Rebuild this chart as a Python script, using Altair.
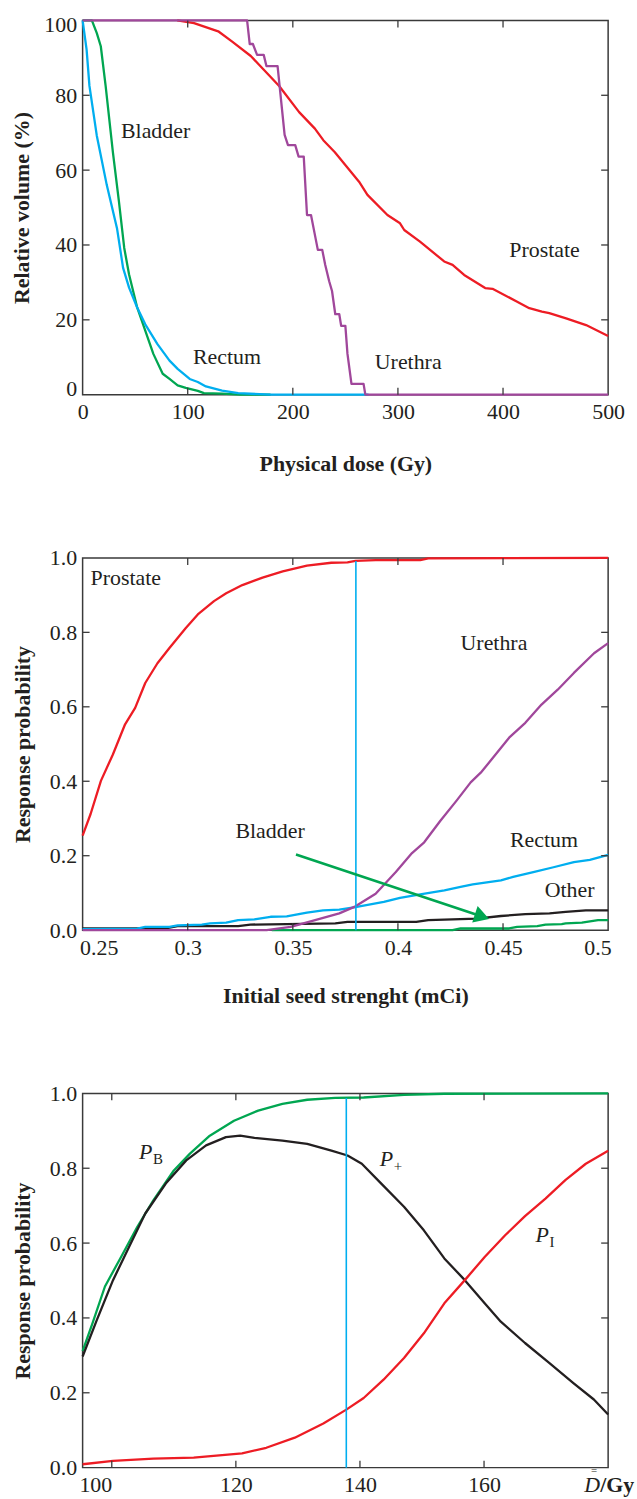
import altair as alt
import pandas as pd

FONT = "Liberation Serif"
INK = "#231F20"
FRAME = "#3a3a3a"
RED = "#ED1C24"
GREEN = "#00A651"
CYAN = "#00AEEF"
PURPLE = "#A0479B"
BLACK = "#231F20"

W = 528
H1, H2, H3 = 376, 374, 376
TICK = 7
FS = 22
LW = 2.3

# ---------------- Panel 1: dose-volume histograms ----------------
prostate_dose = [90, 106, 129, 142, 160, 187, 206, 221, 229, 240, 263, 271, 290, 302, 306, 321,
                 344, 352, 363, 383, 390, 413, 425, 437, 444, 460, 479, 500]
prostate_vol = [100, 99.3, 97.1, 94.4, 90.5, 82.5, 75.5, 71.1, 68, 64.8, 56.9, 53.4, 48, 45.8, 44, 40.9,
                35.6, 34.7, 32, 28.5, 28.3, 24.9, 23.1, 22.2, 21.8, 20.4, 18.6, 15.7]

urethra_dose = [0, 156.5, 159, 162, 166, 172.3, 174.9, 185.5, 192.2, 195.4, 202.3, 205.5, 210.4, 213.5,
                217.3, 221, 223.8, 228, 230.8, 234.6, 237.3, 240.4, 244.2, 246, 250, 252, 255.8,
                267.3, 269, 500]
urethra_vol = [100, 100, 93.7, 93.7, 90.8, 90.8, 87.8, 87.8, 69.4, 66.7, 66.7, 63.6, 63.6, 48,
               48, 42.7, 38.7, 38.7, 34.7, 30.3, 27.7, 21.5, 21.5, 18.4, 18.4, 10.9, 2.9,
               2.9, 0, 0]

rectum_dose = [0, 3.8, 6.5, 13.5, 23, 32.7, 38.5, 44.2, 51.9, 59.6, 71.2, 82.7, 90.4, 101.9, 109.6,
               117.3, 132.7, 148, 178.8, 272]
rectum_vol = [100, 92.2, 82.5, 69.2, 56, 44.5, 33.9, 28.6, 23.3, 18.8, 13.5, 9.1, 6.9, 4.2, 3.4,
              2.2, 1.1, 0.4, 0, 0]

bladder_dose = [0, 8.8, 13.5, 17.3, 21.9, 28.8, 34.6, 39.6, 44.2, 51.9, 59.6, 67.3, 76.2, 82.7, 90.4,
                98.1, 109.6, 115.4, 132.7, 150, 178.8]
bladder_vol = [100, 100, 96.6, 93.1, 82.5, 64.8, 51.5, 39.2, 32.1, 23.3, 17.1, 10.9, 5.6, 4.2, 2.5,
               1.8, 1.0, 0.4, 0.3, 0, 0]

dvh_label_text = ["Bladder", "Rectum", "Urethra", "Prostate"]
dvh_label_dose = [36.5, 105, 278, 406]
dvh_label_vol = [70.4, 10, 8.7, 38.7]

dvh_x_ticks = [0, 100, 200, 300, 400, 500]
dvh_y_ticks = [0, 20, 40, 60, 80, 100]

# ---------------- Panel 2: response vs seed strength ----------------
s_prostate = [0.25, 0.2538, 0.2587, 0.2644, 0.2702, 0.275, 0.2798, 0.2856, 0.2913, 0.299, 0.3048,
              0.3125, 0.3183, 0.326, 0.3356, 0.3452, 0.3567, 0.3683, 0.376, 0.3798, 0.3894, 0.4106,
              0.4144, 0.5]
p_prostate = [0.254, 0.312, 0.401, 0.472, 0.553, 0.597, 0.664, 0.717, 0.758, 0.811, 0.848,
              0.884, 0.905, 0.927, 0.947, 0.964, 0.979, 0.987, 0.988, 0.992, 0.994, 0.994,
              0.999, 1.0]

s_urethra = [0.25, 0.3375, 0.349, 0.3606, 0.3721, 0.3798, 0.3894, 0.399, 0.4067, 0.4125, 0.4202,
             0.4279, 0.4346, 0.4394, 0.4452, 0.4529, 0.4606, 0.4683, 0.476, 0.4837, 0.4933, 0.5]
p_urethra = [0, 0, 0.009, 0.027, 0.045, 0.064, 0.098, 0.156, 0.207, 0.236, 0.294,
             0.348, 0.397, 0.423, 0.463, 0.517, 0.557, 0.606, 0.646, 0.691, 0.744, 0.771]

s_rectum = [0.25, 0.276, 0.2798, 0.2913, 0.2952, 0.3067, 0.3106, 0.3183, 0.324, 0.3317, 0.3394,
            0.3471, 0.3567, 0.3644, 0.3721, 0.3798, 0.3933, 0.401, 0.4106, 0.4221, 0.4298, 0.4356,
            0.449, 0.4548, 0.4644, 0.474, 0.4837, 0.4913, 0.5]
p_rectum = [0.003, 0.004, 0.009, 0.009, 0.013, 0.015, 0.018, 0.02, 0.027, 0.029, 0.036,
            0.037, 0.047, 0.053, 0.055, 0.062, 0.076, 0.087, 0.096, 0.107, 0.116, 0.123,
            0.134, 0.143, 0.156, 0.169, 0.183, 0.189, 0.202]

s_other = [0.25, 0.2894, 0.2952, 0.324, 0.3298, 0.3702, 0.376, 0.4087, 0.4144, 0.4375, 0.449,
           0.4606, 0.4721, 0.4798, 0.4894, 0.5]
p_other = [0.0045, 0.0045, 0.011, 0.011, 0.015, 0.018, 0.022, 0.022, 0.027, 0.031, 0.038,
           0.043, 0.045, 0.049, 0.053, 0.053]

s_bladder = [0.34, 0.426, 0.4298, 0.4529, 0.4567, 0.4663, 0.4702, 0.4779, 0.4798, 0.4875, 0.4952, 0.5]
p_bladder = [0, 0, 0.0045, 0.0045, 0.009, 0.011, 0.015, 0.016, 0.018, 0.02, 0.027, 0.027]

seed_opt = [0.38]
seed_opt_top = [0.992]

arrow_s0 = [0.3515]
arrow_p0 = [0.203]
arrow_s1 = [0.440]
arrow_p1 = [0.0365]

seed_label_text = ["Prostate", "Urethra", "Bladder", "Rectum", "Other"]
seed_label_s = [0.2538, 0.4298, 0.3227, 0.4533, 0.4698]
seed_label_p = [0.945, 0.771, 0.266, 0.241, 0.107]

seed_x_ticks = [0.25, 0.3, 0.35, 0.4, 0.45, 0.5]
prob_ticks = [0.0, 0.2, 0.4, 0.6, 0.8, 1.0]

# ---------------- Panel 3: response vs mean dose ----------------
d_pb = [95.3, 96.9, 98.9, 101.5, 104.1, 106.7, 110, 112.6, 115.8, 119.7, 123.6, 127.5, 131.5,
        136, 140.6, 147.1, 153.6, 180]
p_pb = [0.311, 0.386, 0.484, 0.563, 0.643, 0.714, 0.794, 0.839, 0.887, 0.927, 0.954, 0.972, 0.983,
        0.988, 0.989, 0.996, 0.999, 1.0]

d_pplus = [95.3, 97.6, 100.2, 102.8, 105.4, 108.7, 112, 115.2, 118.4, 120.7, 123, 127.5, 131.5,
           135.4, 138, 140.3, 143.2, 147.1, 150.3, 153.6, 156.9, 160.1, 162.7, 166.6, 170.5,
           174.4, 177.7, 180]
p_pplus = [0.297, 0.395, 0.501, 0.59, 0.679, 0.759, 0.821, 0.861, 0.883, 0.887, 0.881, 0.874, 0.865,
           0.847, 0.834, 0.812, 0.763, 0.697, 0.634, 0.559, 0.501, 0.439, 0.39, 0.333, 0.28,
           0.226, 0.182, 0.142]

d_pi = [95.3, 100.2, 106.7, 113.2, 121, 124.9, 129.5, 134.1, 137.8, 140.6, 143.8, 147.1, 150.3,
        153.6, 156.9, 160.1, 163.4, 166.6, 169.9, 173.1, 176.4, 180]
p_pi = [0.009, 0.018, 0.024, 0.027, 0.038, 0.053, 0.08, 0.118, 0.155, 0.186, 0.235, 0.293, 0.359,
        0.439, 0.501, 0.563, 0.621, 0.672, 0.719, 0.768, 0.812, 0.847]

dose_opt = [137.8]
dose_opt_top = [0.988]

p_label_main = ["P", "P", "P"]
p_label_sub = ["B", "+", "I"]
p_label_d = [104.4, 143.2, 168.3]
p_label_p = [0.843, 0.825, 0.621]

dose_x_ticks = [100, 120, 140, 160]
dose_axis_symbol = ["D"]
dose_axis_bars = ["="]
dose_axis_unit = ["/Gy"]


# ---------------- axis builders ----------------
def make_axis(title, values, fmt, label_pad, title_pad, flush=False, flush_offset=0):
    return alt.Axis(title=title, values=values, format=fmt, ticks=False, domain=False, grid=False,
                    labelFlush=flush, labelFlushOffset=flush_offset,
                    labelFont=FONT, labelFontSize=FS, labelColor=INK, labelPadding=label_pad,
                    titleFont=FONT, titleFontSize=FS, titleFontWeight="bold", titleColor=INK,
                    titlePadding=title_pad)


class Panel:
    def __init__(self, xsc, ysc, xax, yax, H):
        self.xsc, self.ysc, self.xax, self.yax, self.H = xsc, ysc, xax, yax, H

    def X(self, f):
        return alt.X(f, scale=self.xsc, axis=self.xax)

    def Y(self, f):
        return alt.Y(f, scale=self.ysc, axis=self.yax)

    def curve(self, xs, ys, color, width=LW):
        df = pd.DataFrame({"x": xs, "y": ys, "i": list(range(len(xs)))})
        return alt.Chart(df).mark_line(color=color, strokeWidth=width, strokeJoin="round").encode(
            x=self.X("x:Q"), y=self.Y("y:Q"), order=alt.Order("i:Q"))

    def ticks(self, xvals, yvals):
        tx = pd.DataFrame({"v": xvals})
        ty = pd.DataFrame({"v": yvals})
        rx = alt.Chart(tx).mark_rule(color=FRAME, strokeWidth=1.3)
        ry = alt.Chart(ty).mark_rule(color=FRAME, strokeWidth=1.3)
        H = self.H
        return [
            rx.encode(x=self.X("v:Q"), y=alt.value(H), y2=alt.value(H - TICK)),
            rx.encode(x=self.X("v:Q"), y=alt.value(0), y2=alt.value(TICK)),
            ry.encode(y=self.Y("v:Q"), x=alt.value(0), x2=alt.value(TICK)),
            ry.encode(y=self.Y("v:Q"), x=alt.value(W), x2=alt.value(W - TICK)),
        ]

    def labels(self, xs, ys, texts, size=FS, **kw):
        df = pd.DataFrame({"x": xs, "y": ys, "t": texts})
        return alt.Chart(df).mark_text(align="left", baseline="middle", font=FONT, fontSize=size,
                                       color=INK, **kw).encode(
            x=self.X("x:Q"), y=self.Y("y:Q"), text="t:N")

    def vline(self, xs, tops, color=CYAN):
        df = pd.DataFrame({"x": xs, "y": [0] * len(xs), "y2": tops})
        return alt.Chart(df).mark_rule(color=color, strokeWidth=1.6).encode(
            x=self.X("x:Q"), y=self.Y("y:Q"), y2="y2:Q")


# ---------------- Panel 1 ----------------
P1 = Panel(alt.Scale(domain=[0, 500], nice=False, zero=False),
           alt.Scale(domain=[0, 100], nice=False, zero=False),
           make_axis("Physical dose (Gy)", dvh_x_ticks, "d", 7, 31),
           make_axis("Relative volume (%)", dvh_y_ticks, "d", 6, 10, True, 6),
           H1)
p1 = alt.layer(
    P1.curve(bladder_dose, bladder_vol, GREEN),
    P1.curve(rectum_dose, rectum_vol, CYAN),
    P1.curve(prostate_dose, prostate_vol, RED),
    P1.curve(urethra_dose, urethra_vol, PURPLE),
    P1.labels(dvh_label_dose, dvh_label_vol, dvh_label_text),
    *P1.ticks(dvh_x_ticks[1:-1], dvh_y_ticks[1:-1]),
).properties(width=W, height=H1)

# ---------------- Panel 2 ----------------
P2 = Panel(alt.Scale(domain=[0.25, 0.5], nice=False, zero=False),
           alt.Scale(domain=[0, 1], nice=False, zero=False),
           make_axis("Initial seed strenght (mCi)", seed_x_ticks, "~g", 7, 28, True, 3),
           make_axis("Response probability", prob_ticks, ".1f", 6, 15),
           H2)
arrow_df = pd.DataFrame({"x": arrow_s0, "y": arrow_p0, "x2": arrow_s1, "y2": arrow_p1})
arrow_line = alt.Chart(arrow_df).mark_rule(color=GREEN, strokeWidth=2.6).encode(
    x=P2.X("x:Q"), y=P2.Y("y:Q"), x2="x2:Q", y2="y2:Q")
arrow_head = alt.Chart(arrow_df).mark_point(shape="triangle-right", filled=True, opacity=1,
                                            color=GREEN, size=300, angle=18.4).encode(
    x=P2.X("x2:Q"), y=P2.Y("y2:Q"))

p2 = alt.layer(
    P2.curve(s_other, p_other, BLACK),
    P2.curve(s_bladder, p_bladder, GREEN),
    P2.curve(s_rectum, p_rectum, CYAN),
    P2.curve(s_urethra, p_urethra, PURPLE),
    P2.curve(s_prostate, p_prostate, RED),
    P2.vline(seed_opt, seed_opt_top),
    arrow_line,
    arrow_head,
    P2.labels(seed_label_s, seed_label_p, seed_label_text),
    *P2.ticks(seed_x_ticks[1:-1], prob_ticks[1:-1]),
).properties(width=W, height=H2)

# ---------------- Panel 3 ----------------
P3 = Panel(alt.Scale(domain=[95.3, 180], nice=False, zero=False),
           alt.Scale(domain=[0, 1], nice=False, zero=False),
           make_axis(None, dose_x_ticks, "d", 7, 10, 35, 33),
           make_axis("Response probability", prob_ticks, ".1f", 6, 15),
           H3)
sym = alt.Chart(pd.DataFrame({"t": dose_axis_symbol})).mark_text(
    align="right", baseline="middle", font=FONT, fontSize=FS, fontStyle="italic", color=INK).encode(
    x=alt.value(W - 8), y=alt.value(H3 + 17), text="t:N")
bars = alt.Chart(pd.DataFrame({"t": dose_axis_bars})).mark_text(
    align="center", baseline="middle", font=FONT, fontSize=11, color=INK).encode(
    x=alt.value(W - 14), y=alt.value(H3 + 3), text="t:N")
unit = alt.Chart(pd.DataFrame({"t": dose_axis_unit})).mark_text(
    align="left", baseline="middle", font=FONT, fontSize=FS, fontWeight="bold", color=INK).encode(
    x=alt.value(W - 8), y=alt.value(H3 + 17), text="t:N")

p3 = alt.layer(
    P3.curve(d_pb, p_pb, GREEN),
    P3.curve(d_pplus, p_pplus, BLACK),
    P3.curve(d_pi, p_pi, RED),
    P3.vline(dose_opt, dose_opt_top),
    P3.labels(p_label_d, p_label_p, p_label_main, fontStyle="italic"),
    P3.labels(p_label_d, p_label_p, p_label_sub, size=15, dx=14, dy=7),
    sym,
    bars,
    unit,
    *P3.ticks(dose_x_ticks, prob_ticks[1:-1]),
).properties(width=W, height=H3)

chart = alt.vconcat(p1, p2, p3, spacing=164, bounds="flush").properties(
    padding={"left": 10, "top": 9, "right": 2, "bottom": 2}
).configure_view(stroke=FRAME, strokeWidth=1.5)

chart.save("out.html", embed_options={"renderer": "svg", "actions": False})
